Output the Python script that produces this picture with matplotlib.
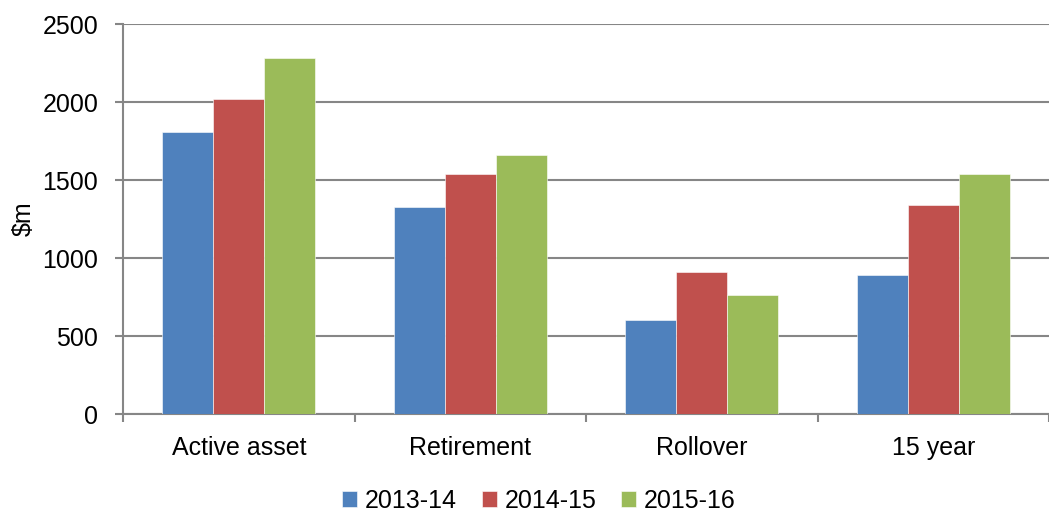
import matplotlib.pyplot as plt
import numpy as np

plt.rcParams['font.family'] = ['Liberation Sans', 'DejaVu Sans']

categories = ["Active asset", "Retirement", "Rollover", "15 year"]
series_names = ["2013-14", "2014-15", "2015-16"]
v_2013_14 = [1810, 1330, 600, 890]
v_2014_15 = [2020, 1540, 910, 1340]
v_2015_16 = [2280, 1660, 760, 1540]
colors = ["#4F81BD", "#C0504D", "#9BBB59"]

fig = plt.figure(figsize=(10.49, 5.15), dpi=100)
ax = fig.add_axes([123 / 1049, 1 - 414 / 515, 1 - 123 / 1049, 390 / 515])

x = np.arange(len(categories))
width = 0.221
for i, (vals, name) in enumerate(zip([v_2013_14, v_2014_15, v_2015_16], series_names)):
    ax.bar(x + (i - 1) * width, vals, width, color=colors[i], label=name,
           edgecolor="white", linewidth=0.4, zorder=3)

ax.set_xlim(-0.5, len(categories) - 0.5)
ax.set_ylim(0, 2500)
ax.set_yticks(np.arange(0, 2501, 500))
ax.yaxis.grid(True, color="#868686", linewidth=1.5, zorder=0)
ax.set_xticks(x)
ax.set_xticklabels(categories, fontsize=18)
ax.set_xticks(np.arange(-0.5, len(categories)), minor=True)
ax.tick_params(axis="x", which="major", length=0, pad=16)
ax.tick_params(axis="x", which="minor", length=6, width=1.5, color="#868686", direction="out")
ax.tick_params(axis="y", length=5.8, width=1.5, color="#868686", labelsize=18, pad=12)

for s in ["top", "right"]:
    ax.spines[s].set_visible(False)
for s in ["left", "bottom"]:
    ax.spines[s].set_color("#868686")
    ax.spines[s].set_linewidth(1.5)

ax.set_ylabel("$m", fontsize=18, labelpad=5)

ax.legend(loc="lower center", bbox_to_anchor=(539 / 1049, 0.0), bbox_transform=fig.transFigure,
          ncol=3, frameon=False, fontsize=18, handlelength=0.6, handleheight=0.6,
          handletextpad=0.3, columnspacing=1.0, borderaxespad=0.0, borderpad=0.1)

fig.savefig("out.png", dpi=100)
